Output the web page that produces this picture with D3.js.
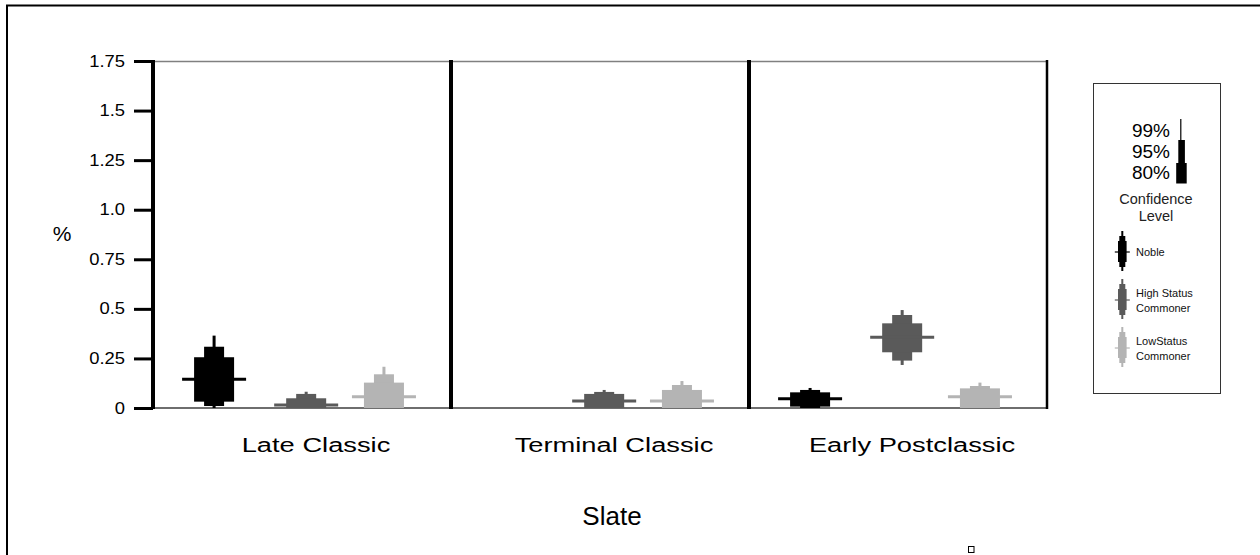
<!DOCTYPE html>
<html>
<head>
<meta charset="utf-8">
<script src="https://cdn.jsdelivr.net/npm/d3@7/dist/d3.min.js"></script>
<style>
  html, body { margin: 0; padding: 0; background: #fff; }
  svg { display: block; font-family: "Liberation Sans", Arial, sans-serif; }
</style>
</head>
<body>
<svg id="chart" width="1260" height="555"></svg>
<script>
// Periods (x groups) and status classes (series)
const periods = ["Late Classic", "Terminal Classic", "Early Postclassic"];
const statuses = ["Noble", "High Status Commoner", "LowStatus Commoner"];
const yTicks = [0, 0.25, 0.5, 0.75, 1.0, 1.25, 1.5, 1.75];
const yTickLabels = ["0", "0.25", "0.5", "0.75", "1.0", "1.25", "1.5", "1.75"];

// Median and confidence bounds per status, one entry per period (null = no data)
const nobleMedian = [0.145, null, 0.047];
const noble80 = [[0.032, 0.256], null, [0.007, 0.079]];
const noble95 = [[0.010, 0.309], null, [0.000, 0.091]];
const noble99 = [[0.000, 0.365], null, [0.000, 0.101]];

const highMedian = [0.015, 0.035, 0.357];
const high80 = [[0.000, 0.049], [0.000, 0.071], [0.281, 0.427]];
const high95 = [[0.000, 0.071], [0.000, 0.081], [0.239, 0.469]];
const high99 = [[0.000, 0.082], [0.000, 0.091], [0.217, 0.494]];

const lowMedian = [0.057, 0.035, 0.057];
const low80 = [[0.000, 0.128], [0.000, 0.091], [0.000, 0.099]];
const low95 = [[0.000, 0.170], [0.000, 0.116], [0.000, 0.111]];
const low99 = [[0.000, 0.208], [0.000, 0.136], [0.000, 0.128]];

const seriesColors = ["#000000", "#5a5a5a", "#b4b4b4"];

const seriesData = [
  { name: statuses[0], median: nobleMedian, c80: noble80, c95: noble95, c99: noble99 },
  { name: statuses[1], median: highMedian, c80: high80, c95: high95, c99: high99 },
  { name: statuses[2], median: lowMedian, c80: low80, c95: low95, c99: low99 }
];

const svg = d3.select("#chart");

// widen text glyphs horizontally around their anchor point
function widen(sel, k) {
  sel.each(function () {
    const t = d3.select(this);
    const x = +t.attr("x") || 0, yy = +t.attr("y") || 0;
    t.attr("x", 0).attr("y", 0)
      .attr("transform", `translate(${x},${yy}) scale(${k},1)`);
  });
}

// Outer frame
svg.append("rect").attr("x", 7).attr("y", 5.5).attr("width", 1400).attr("height", 700)
  .attr("fill", "none").attr("stroke", "#000").attr("stroke-width", 2);

const plot = { left: 153, right: 1047, top: 61, bottom: 408 };

const y = d3.scaleLinear().domain([0, 1.75]).range([plot.bottom, plot.top]);
const xPeriod = d3.scaleBand().domain(periods).range([plot.left, plot.right]).paddingInner(0);
const color = d3.scaleOrdinal().domain(statuses).range(seriesColors);
// relative position of each status glyph inside its period panel
const within = d3.scaleOrdinal().domain(statuses).range([0.205, 0.514, 0.775]);

// Top and bottom frame lines
svg.append("line").attr("x1", plot.left).attr("x2", plot.right)
  .attr("y1", plot.top + 0.5).attr("y2", plot.top + 0.5)
  .attr("stroke", "#808080").attr("stroke-width", 1.5);
svg.append("line").attr("x1", plot.left).attr("x2", plot.right)
  .attr("y1", plot.bottom).attr("y2", plot.bottom)
  .attr("stroke", "#6e6e6e").attr("stroke-width", 2);

// Y axis
const yAxis = d3.axisLeft(y).tickValues(yTicks)
  .tickFormat((d, i) => yTickLabels[i]).tickSize(19).tickPadding(9);
const gy = svg.append("g").attr("transform", `translate(${plot.left},0)`).call(yAxis);
gy.select(".domain").remove();
gy.selectAll(".tick line").attr("stroke", "#000").attr("stroke-width", 3);
gy.selectAll(".tick text").attr("fill", "#000").style("font-size", "16px").call(widen, 1.15);

svg.append("text").attr("x", 62).attr("y", 241).attr("text-anchor", "middle")
  .style("font-size", "21px").text("%");

// Panel separators (including the y axis line and right edge)
const seps = [plot.left, ...periods.slice(1).map(p => xPeriod(p)), plot.right];
svg.selectAll("line.sep").data(seps).join("line").attr("class", "sep")
  .attr("x1", d => d).attr("x2", d => d)
  .attr("y1", plot.top - 1).attr("y2", plot.bottom + 1)
  .attr("stroke", "#000").attr("stroke-width", (d, i) => i === seps.length - 1 ? 2.5 : 4);

// Confidence glyphs
const glyphs = [];
seriesData.forEach(s => {
  periods.forEach((p, i) => {
    if (s.median[i] == null) return;
    glyphs.push({ series: s.name, period: p, median: s.median[i],
      c80: s.c80[i], c95: s.c95[i], c99: s.c99[i] });
  });
});

const g = svg.append("g");
const cx = d => xPeriod(d.period) + within(d.series) * xPeriod.bandwidth();

const layers = [
  { key: "c99", w: 3 },
  { key: "c95", w: 20 },
  { key: "c80", w: 40 }
];
layers.forEach(L => {
  g.selectAll(`rect.${L.key}`).data(glyphs).join("rect").attr("class", L.key)
    .attr("x", d => cx(d) - L.w / 2)
    .attr("width", L.w)
    .attr("y", d => y(d[L.key][1]))
    .attr("height", d => y(d[L.key][0]) - y(d[L.key][1]))
    .attr("fill", d => color(d.series));
});
g.selectAll("line.median").data(glyphs).join("line").attr("class", "median")
  .attr("x1", d => cx(d) - 32).attr("x2", d => cx(d) + 32)
  .attr("y1", d => y(d.median)).attr("y2", d => y(d.median))
  .attr("stroke", d => color(d.series)).attr("stroke-width", 3);

// Period labels and x title
svg.selectAll("text.period").data(periods).join("text").attr("class", "period")
  .attr("x", d => xPeriod(d) + xPeriod.bandwidth() / 2 + 14)
  .attr("y", 452).attr("text-anchor", "middle")
  .style("font-size", "21px").text(d => d).call(widen, 1.3);

svg.append("text").attr("x", 612).attr("y", 525).attr("text-anchor", "middle")
  .style("font-size", "26px").text("Slate");

// Legend
const lg = svg.append("g");
lg.append("rect").attr("x", 1093.5).attr("y", 83.5).attr("width", 127).attr("height", 310)
  .attr("fill", "#fff").attr("stroke", "#333").attr("stroke-width", 1);

const confLabels = ["99%", "95%", "80%"];
lg.selectAll("text.conf").data(confLabels).join("text").attr("class", "conf")
  .attr("x", 1170).attr("y", (d, i) => 137 + i * 20.8).attr("text-anchor", "end")
  .style("font-size", "19px").text(d => d);
lg.append("rect").attr("x", 1180.2).attr("y", 119).attr("width", 1.2).attr("height", 21).attr("fill", "#000");
lg.append("rect").attr("x", 1178.3).attr("y", 140).attr("width", 6.6).attr("height", 23.5).attr("fill", "#000");
lg.append("rect").attr("x", 1176.2).attr("y", 163).attr("width", 10.5).attr("height", 20.5).attr("fill", "#000");
lg.append("text").attr("x", 1156).attr("y", 204).attr("text-anchor", "middle")
  .style("font-size", "14.5px").attr("fill", "#222").text("Confidence");
lg.append("text").attr("x", 1156).attr("y", 221).attr("text-anchor", "middle")
  .style("font-size", "14.5px").attr("fill", "#222").text("Level");

const legendItems = [
  { name: statuses[0], lines: ["Noble"], mid: 252 },
  { name: statuses[1], lines: ["High Status", "Commoner"], mid: 300 },
  { name: statuses[2], lines: ["LowStatus", "Commoner"], mid: 348 }
];
legendItems.forEach(it => {
  const c = color(it.name), x0 = 1122.3, m = it.mid;
  lg.append("rect").attr("x", x0 - 1).attr("y", m - 21).attr("width", 2).attr("height", 40).attr("fill", c);
  lg.append("rect").attr("x", x0 - 3).attr("y", m - 16).attr("width", 6).attr("height", 31).attr("fill", c);
  lg.append("rect").attr("x", x0 - 4.3).attr("y", m - 11).attr("width", 8.6).attr("height", 21).attr("fill", c);
  lg.append("line").attr("x1", x0 - 7.5).attr("x2", x0 + 7.5).attr("y1", m).attr("y2", m)
    .attr("stroke", c).attr("stroke-width", 1.2);
  const t = lg.append("text").attr("x", 1136).style("font-size", "11px").attr("fill", "#111");
  if (it.lines.length === 1) {
    t.attr("y", m + 3.5).text(it.lines[0]);
  } else {
    it.lines.forEach((ln, k) => {
      t.append("tspan").attr("x", 1136).attr("y", m - 3 + k * 14.5).text(ln);
    });
  }
});

// Small marker near the bottom edge
svg.append("rect").attr("x", 968.5).attr("y", 546.5).attr("width", 5.5).attr("height", 6)
  .attr("fill", "none").attr("stroke", "#000").attr("stroke-width", 1);
</script>
</body>
</html>
